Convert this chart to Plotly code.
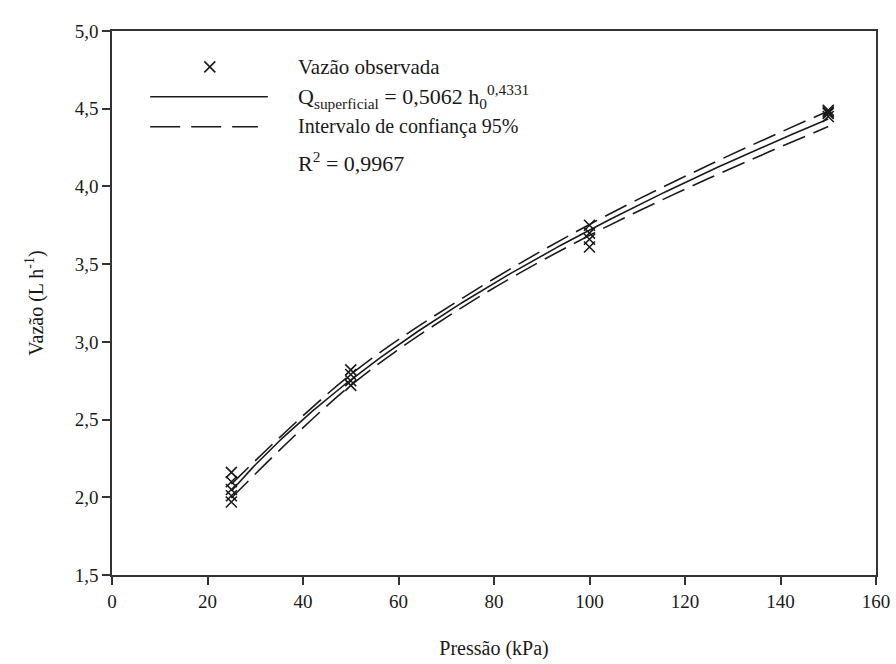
import numpy as np
import plotly.graph_objects as go

# Observed flow rates (L/h) at each test pressure (kPa)
pressao_obs = [25, 25, 25, 25, 25,
               50, 50, 50, 50,
               100, 100, 100, 100,
               150, 150, 150, 150]
vazao_obs = [2.16, 2.10, 2.05, 2.01, 1.97,
             2.82, 2.79, 2.75, 2.72,
             3.75, 3.70, 3.66, 3.61,
             4.49, 4.48, 4.47, 4.45]

# Fitted power model Q = a * h^b
coef_a = 0.5062
coef_b = 0.4331

# 95% confidence band limits
pressao_ic = [25, 50, 75, 100, 125, 150]
ic_sup = [2.085, 2.790, 3.312, 3.755, 4.138, 4.485]
ic_inf = [1.995, 2.720, 3.254, 3.685, 4.052, 4.385]

# Axis ticks
x_ticks = [0, 20, 40, 60, 80, 100, 120, 140, 160]
y_ticks = [1.5, 2.0, 2.5, 3.0, 3.5, 4.0, 4.5, 5.0]

FONT = "Times New Roman, Liberation Serif, DejaVu Serif, serif"
INK = "#1a1a1a"
AXIS = "#333333"

h = np.linspace(25, 150, 200)
q_fit = coef_a * h ** coef_b

marker_style = dict(symbol="x-thin-open", size=11, color=INK,
                    line=dict(color=INK, width=1.6))

fig = go.Figure()

fig.add_trace(go.Scatter(x=pressao_ic, y=ic_sup, mode="lines", line_shape="spline",
                         line=dict(color=INK, width=1.6, dash="24px,9px"), showlegend=False))
fig.add_trace(go.Scatter(x=pressao_ic, y=ic_inf, mode="lines", line_shape="spline",
                         line=dict(color=INK, width=1.6, dash="24px,9px"), showlegend=False))
fig.add_trace(go.Scatter(x=h, y=q_fit, mode="lines",
                         line=dict(color=INK, width=1.6), showlegend=False))
fig.add_trace(go.Scatter(x=pressao_obs, y=vazao_obs, mode="markers",
                         marker=marker_style, showlegend=False))

# Legend glyphs drawn on an overlay axis spanning the plot area (0..1)
fig.add_trace(go.Scatter(x=[0.128], y=[0.934], mode="markers", xaxis="x2", yaxis="y2",
                         marker=marker_style, showlegend=False, hoverinfo="skip"))
fig.add_trace(go.Scatter(x=[0.050, 0.204], y=[0.879, 0.879], mode="lines", xaxis="x2", yaxis="y2",
                         line=dict(color=INK, width=1.5), showlegend=False, hoverinfo="skip"))
fig.add_trace(go.Scatter(x=[0.050, 0.191], y=[0.824, 0.824], mode="lines", xaxis="x2", yaxis="y2",
                         line=dict(color=INK, width=1.5, dash="30px,11px"),
                         showlegend=False, hoverinfo="skip"))

legend_texts = [
    (0.934, "Vazão observada", 21),
    (0.879, "Q<sub>superficial</sub> = 0,5062 h<sub>0</sub><sup>0,4331</sup>", 22),
    (0.824, "Intervalo de confiança 95%", 20),
    (0.760, "R<sup>2</sup> = 0,9967", 22),
]
for yy, txt, fs in legend_texts:
    fig.add_annotation(x=0.241, y=yy, xref="x2", yref="y2", text=txt, showarrow=False,
                       xanchor="left", yanchor="middle",
                       font=dict(family=FONT, size=fs, color=INK))

axis_common = dict(showline=True, linecolor=AXIS, linewidth=1.5, mirror=True,
                   ticks="outside", ticklen=8, tickwidth=1.5, tickcolor=AXIS,
                   showgrid=False, zeroline=False, automargin=False,
                   tickfont=dict(family=FONT, size=19, color=INK))

fig.update_layout(
    width=896, height=664,
    margin=dict(l=112, r=20, t=31, b=89),
    paper_bgcolor="white", plot_bgcolor="white",
    font=dict(family=FONT, color=INK),
    separators=",.",
    showlegend=False,
    xaxis=dict(range=[0, 160], tickvals=x_ticks, **axis_common,
               title=dict(text="Pressão (kPa)", standoff=30,
                          font=dict(family=FONT, size=20, color=INK))),
    yaxis=dict(range=[1.5, 5.0], tickvals=y_ticks, tickformat=".1f", **axis_common,
               title=dict(text="Vazão (L h<sup>-1</sup>)", standoff=26,
                          font=dict(family=FONT, size=20, color=INK))),
    xaxis2=dict(domain=[0, 1], range=[0, 1], overlaying="x", anchor="y2",
                visible=False, fixedrange=True),
    yaxis2=dict(domain=[0, 1], range=[0, 1], overlaying="y", anchor="x2",
                visible=False, fixedrange=True),
)

fig.write_html("out.html")
